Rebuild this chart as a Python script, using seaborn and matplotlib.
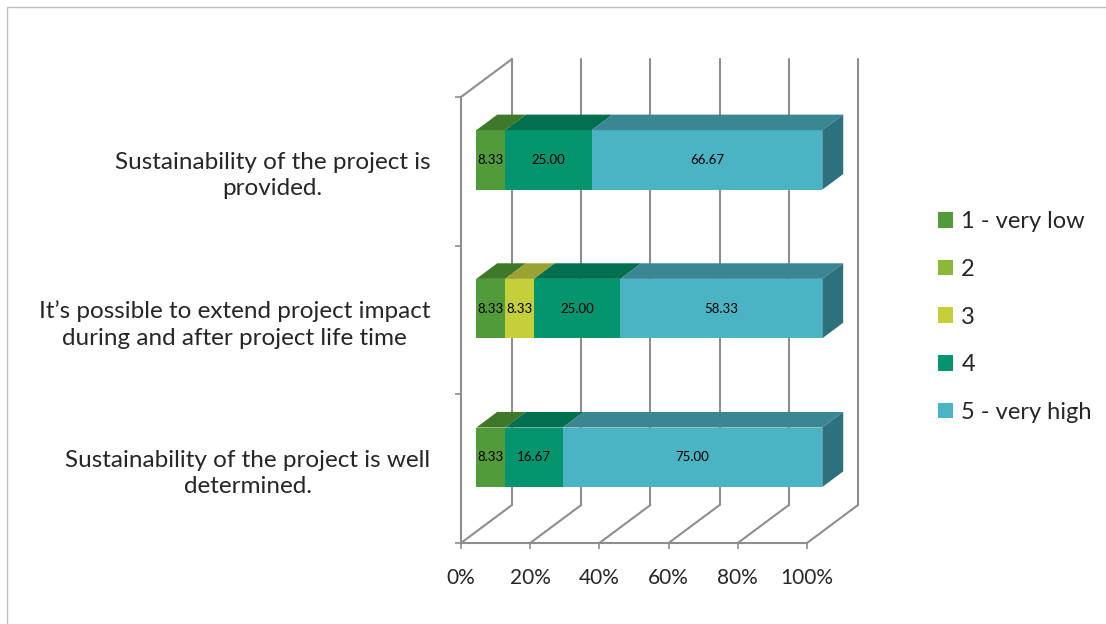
import matplotlib
matplotlib.use("Agg")
import numpy as np
import pandas as pd
import seaborn as sns
import matplotlib.pyplot as plt
from matplotlib.patches import Patch, Polygon, Rectangle
from matplotlib.transforms import Affine2D

# data (percent of answers per rating)
questions = ["Sustainability of the project is\nprovided.",
             "It\u2019s possible to extend project impact\nduring and after project life time",
             "Sustainability of the project is well\ndetermined."]
levels = ["1 - very low", "2", "3", "4", "5 - very high"]
very_low = [8.33, 8.33, 8.33]
low = [0.0, 0.0, 0.0]
medium = [0.0, 8.33, 0.0]
high = [25.00, 25.00, 16.67]
very_high = [66.67, 58.33, 75.00]
xticks = [0, 20, 40, 60, 80, 100]
xtick_labels = ["0%", "20%", "40%", "60%", "80%", "100%"]

front_colors = ["#529B3A", "#8BB83A", "#C4CF3A", "#04956F", "#4AB4C5"]
top_colors = ["#3F7828", "#6C8F2C", "#9AA232", "#02704F", "#3A8793"]
side_color = "#2C717B"
grid_color = "#8E8E8E"

sns.set_theme(style="white")
plt.rcParams["font.family"] = ["Lato", "DejaVu Sans"]

df = pd.DataFrame(dict(zip(levels, [very_low, low, medium, high, very_high])))
cum = df.cumsum(axis=1)
starts = cum.shift(1, axis=1).fillna(0)
plot_df = cum.assign(question=questions)

fig = plt.figure(figsize=(11.06, 6.24), dpi=100)
ax = fig.add_axes([461 / 1106, 81 / 624, 346 / 1106, 446 / 624])

# fake 3D box depth, in data units of the front plane
DX = 51 / 346 * 100
DY = -38 / (446 / 3)
f0, f1 = 0.30, 0.71
bar_w = 0.4
shift = Affine2D().translate(f0 * DX, f0 * DY)
bdx, bdy = (f1 - f0) * DX, (f1 - f0) * DY

# stacked bars: draw cumulative totals from the largest down
for lvl, col in reversed(list(zip(levels, front_colors))):
    sns.barplot(data=plot_df, x=lvl, y="question", orient="h", color=col,
                saturation=1, width=bar_w, linewidth=0, ax=ax, zorder=3)
for p in ax.patches:
    p.set_transform(shift + ax.transData)
    p.set_clip_on(False)

ax.set_xlim(0, 100)
ax.set_ylim(2.5, -0.5)

# top faces, end face and value labels
for i in range(len(questions)):
    yt, yb = i - bar_w / 2, i + bar_w / 2
    for k, lvl in enumerate(levels):
        s, e = starts.iloc[i, k], cum.iloc[i, k]
        if e - s <= 0:
            continue
        ax.add_patch(Polygon([(s, yt), (e, yt), (e + bdx, yt + bdy), (s + bdx, yt + bdy)],
                             closed=True, facecolor=top_colors[k], edgecolor="none",
                             transform=shift + ax.transData, clip_on=False, zorder=3))
        ax.text((s + e) / 2, i, f"{df.iloc[i, k]:.2f}", ha="center", va="center",
                fontsize=9.5, color="black", transform=shift + ax.transData, zorder=4)
    end = cum.iloc[i, -1]
    ax.add_patch(Polygon([(end, yt), (end, yb), (end + bdx, yb + bdy), (end + bdx, yt + bdy)],
                         closed=True, facecolor=side_color, edgecolor="none",
                         transform=shift + ax.transData, clip_on=False, zorder=3))

# walls and floor of the 3D box
y0, y1 = ax.get_ylim()
for t in xticks:
    ax.plot([t + DX, t + DX], [y0 + DY, y1 + DY], color=grid_color, lw=1.5, clip_on=False, zorder=1)
    ax.plot([t, t + DX], [y0, y0 + DY], color=grid_color, lw=1.5, clip_on=False, zorder=1)
ax.plot([0, DX], [y1, y1 + DY], color=grid_color, lw=1.5, clip_on=False, zorder=1)

sns.despine(ax=ax, top=True, right=True)
for sp in ["left", "bottom"]:
    ax.spines[sp].set_color(grid_color)
    ax.spines[sp].set_linewidth(1.5)

ax.set_xticks(xticks)
ax.set_xticklabels(xtick_labels)
ax.set_yticks(range(len(questions)))
ax.set_yticklabels(questions)
ax.set_yticks(np.arange(-0.5, len(questions)), minor=True)
ax.set_xlabel("")
ax.set_ylabel("")
ax.tick_params(axis="x", which="major", length=4, width=1.2, color=grid_color,
               direction="out", bottom=True, pad=14, labelsize=15)
ax.tick_params(axis="y", which="major", length=0, pad=22, labelsize=17.5)
ax.tick_params(axis="y", which="minor", length=4.5, width=1.2, color=grid_color,
               direction="out", left=True)
for lbl in ax.get_yticklabels():
    lbl.set_multialignment("center")
    lbl.set_linespacing(1.3)
ax.set_facecolor("none")

handles = [Patch(facecolor=c, edgecolor="none", label=l) for l, c in zip(levels, front_colors)]
fig.legend(handles=handles, loc="center left", bbox_to_anchor=(938 / 1106, 1 - 317 / 624),
           frameon=False, handlelength=0.64, handleheight=0.64, handletextpad=0.35,
           labelspacing=1.13, borderpad=0, borderaxespad=0, fontsize=17)

fig.add_artist(Rectangle((7 / 1106, -0.1), 1.2, 1 - 7 / 624 + 0.1, transform=fig.transFigure,
                         fill=False, edgecolor="#BFBFBF", lw=1))

fig.savefig("out.png", dpi=100)
